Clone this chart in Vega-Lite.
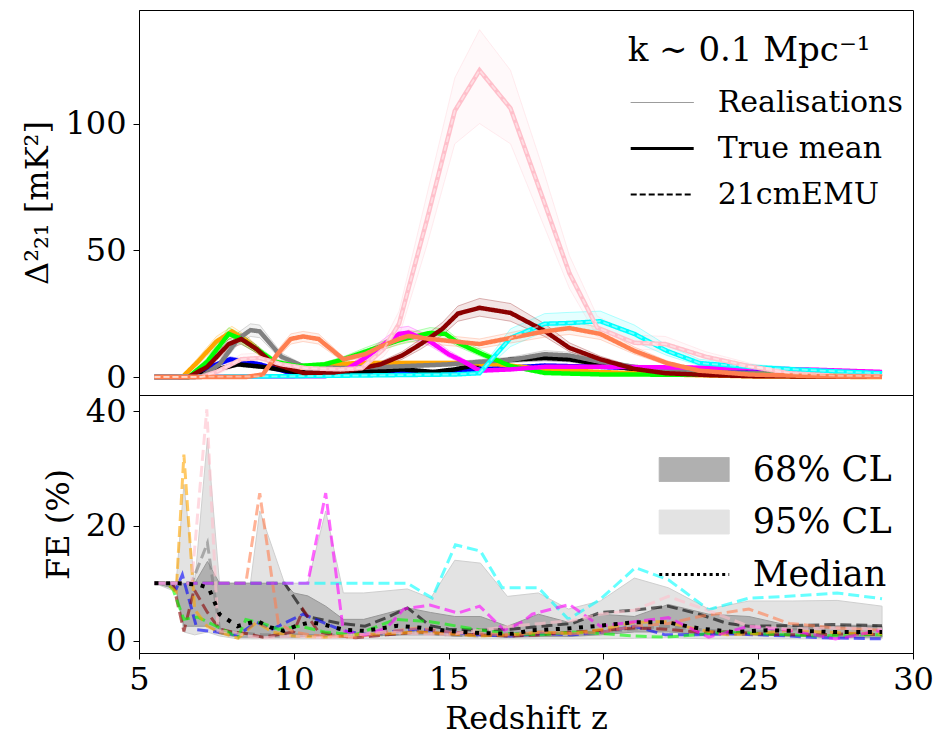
{
  "$schema": "https://vega.github.io/schema/vega-lite/v6.json",
  "background": "white",
  "padding": {"left": 21, "top": 9, "right": 5, "bottom": 5},
  "bounds": "flush",
  "config": {
    "font": "DejaVu Serif",
    "view": {"stroke": "black", "strokeWidth": 1},
    "axis": {"labelFont": "DejaVu Serif", "labelFontSize": 32, "labelColor": "black", "titleFont": "DejaVu Serif", "titleFontSize": 32, "titleFontWeight": "normal", "titleColor": "black", "tickColor": "black", "tickSize": 6, "tickWidth": 1, "domainColor": "black", "labelPadding": 7, "titlePadding": 10, "grid": false, "labelFlush": false, "labelOverlap": false},
    "axisX": {"labelPadding": 5, "titlePadding": 8}
  },
  "datasets": {
    "ps": [
      {"s":"blue","z":5.5,"v":0,"lo":0,"hi":0},{"s":"blue","z":6.6,"v":0,"lo":0,"hi":0.3},{"s":"blue","z":7.3,"v":4,"lo":3.3,"hi":4.8},{"s":"blue","z":7.95,"v":7,"lo":6,"hi":8},{"s":"blue","z":8.9,"v":5,"lo":4.2,"hi":5.8},{"s":"blue","z":9.9,"v":1.6,"lo":1.3,"hi":2},{"s":"blue","z":11,"v":1.2,"lo":1,"hi":1.5},{"s":"blue","z":13,"v":1.5,"lo":1.2,"hi":1.8},{"s":"blue","z":15,"v":2,"lo":1.6,"hi":2.4},{"s":"blue","z":16,"v":3,"lo":2.5,"hi":3.5},{"s":"blue","z":18.1,"v":4.5,"lo":3.8,"hi":5.2},{"s":"blue","z":19.9,"v":4,"lo":3.4,"hi":4.7},{"s":"blue","z":22,"v":3,"lo":2.5,"hi":3.5},{"s":"blue","z":24.7,"v":2.5,"lo":2.1,"hi":3},{"s":"blue","z":27,"v":2,"lo":1.7,"hi":2.4},{"s":"blue","z":29,"v":1.5,"lo":1.2,"hi":1.8},
      {"s":"black","z":5.5,"v":0,"lo":0,"hi":0},{"s":"black","z":6.8,"v":0,"lo":0,"hi":0.3},{"s":"black","z":7.5,"v":3,"lo":2.4,"hi":3.6},{"s":"black","z":8.2,"v":5,"lo":4.2,"hi":5.8},{"s":"black","z":9,"v":4,"lo":3.3,"hi":4.7},{"s":"black","z":10,"v":2,"lo":1.6,"hi":2.4},{"s":"black","z":12,"v":2,"lo":1.6,"hi":2.4},{"s":"black","z":13,"v":2.5,"lo":2,"hi":3},{"s":"black","z":13.5,"v":3,"lo":2.5,"hi":3.5},{"s":"black","z":14.5,"v":2,"lo":1.6,"hi":2.4},{"s":"black","z":15.2,"v":3,"lo":2.5,"hi":3.5},{"s":"black","z":16,"v":5,"lo":4.2,"hi":5.8},{"s":"black","z":17,"v":6.8,"lo":5.8,"hi":7.8},{"s":"black","z":18.1,"v":7.5,"lo":6.4,"hi":8.6},{"s":"black","z":18.9,"v":7,"lo":6,"hi":8},{"s":"black","z":19.9,"v":5,"lo":4.2,"hi":5.8},{"s":"black","z":21,"v":3,"lo":2.5,"hi":3.5},{"s":"black","z":23,"v":1.5,"lo":1.2,"hi":1.8},{"s":"black","z":25,"v":0.8,"lo":0.6,"hi":1},{"s":"black","z":29,"v":0.5,"lo":0.3,"hi":0.7},
      {"s":"orange","z":5.5,"v":0,"lo":0,"hi":0},{"s":"orange","z":6.4,"v":0,"lo":0,"hi":0.5},{"s":"orange","z":6.9,"v":6,"lo":4.5,"hi":7.5},{"s":"orange","z":7.5,"v":14,"lo":12,"hi":16},{"s":"orange","z":8,"v":18,"lo":15.5,"hi":20},{"s":"orange","z":8.5,"v":14,"lo":12,"hi":16},{"s":"orange","z":9.25,"v":6.3,"lo":5.3,"hi":7.3},{"s":"orange","z":10.1,"v":3.5,"lo":2.9,"hi":4.1},{"s":"orange","z":11,"v":4.5,"lo":3.8,"hi":5.2},{"s":"orange","z":12,"v":5.5,"lo":4.7,"hi":6.3},{"s":"orange","z":15.5,"v":5.5,"lo":4.7,"hi":6.3},{"s":"orange","z":16.6,"v":5,"lo":4.3,"hi":5.8},{"s":"orange","z":18.1,"v":3,"lo":2.5,"hi":3.6},{"s":"orange","z":19.9,"v":2,"lo":1.6,"hi":2.4},{"s":"orange","z":22,"v":1,"lo":0.7,"hi":1.3},{"s":"orange","z":25,"v":0.2,"lo":0.1,"hi":0.4},{"s":"orange","z":29,"v":0,"lo":0,"hi":0.1},
      {"s":"gray","z":5.5,"v":0,"lo":0,"hi":0},{"s":"gray","z":7,"v":0,"lo":0,"hi":0.5},{"s":"gray","z":7.6,"v":5,"lo":4,"hi":6.5},{"s":"gray","z":8.2,"v":15,"lo":13,"hi":17.5},{"s":"gray","z":8.6,"v":18.5,"lo":16,"hi":21},{"s":"gray","z":8.9,"v":18,"lo":15.5,"hi":20.5},{"s":"gray","z":9.6,"v":8,"lo":6.8,"hi":9.5},{"s":"gray","z":10.3,"v":4.3,"lo":3.6,"hi":5},{"s":"gray","z":11.5,"v":3.5,"lo":2.9,"hi":4.1},{"s":"gray","z":13,"v":4,"lo":3.3,"hi":4.7},{"s":"gray","z":15,"v":5,"lo":4.2,"hi":5.8},{"s":"gray","z":16,"v":6,"lo":5.1,"hi":6.9},{"s":"gray","z":17,"v":6.7,"lo":5.7,"hi":7.8},{"s":"gray","z":18.1,"v":9,"lo":7.7,"hi":10.4},{"s":"gray","z":18.9,"v":8.5,"lo":7.3,"hi":9.8},{"s":"gray","z":19.9,"v":6,"lo":5.1,"hi":7},{"s":"gray","z":21,"v":4,"lo":3.4,"hi":4.7},{"s":"gray","z":22,"v":3,"lo":2.5,"hi":3.5},{"s":"gray","z":23.5,"v":2,"lo":1.6,"hi":2.4},{"s":"gray","z":25,"v":1.5,"lo":1.2,"hi":1.8},{"s":"gray","z":29,"v":1,"lo":0.8,"hi":1.2},
      {"s":"green","z":5.5,"v":0,"lo":0,"hi":0},{"s":"green","z":6.6,"v":0,"lo":0,"hi":0.5},{"s":"green","z":7.2,"v":6,"lo":4.5,"hi":7.5},{"s":"green","z":7.9,"v":17,"lo":15,"hi":19.5},{"s":"green","z":8.3,"v":15,"lo":13,"hi":17},{"s":"green","z":8.8,"v":11,"lo":9.5,"hi":12.5},{"s":"green","z":9.4,"v":6,"lo":5,"hi":7},{"s":"green","z":10.1,"v":4.3,"lo":3.6,"hi":5},{"s":"green","z":11,"v":5,"lo":4.2,"hi":5.8},{"s":"green","z":11.6,"v":7,"lo":6,"hi":8},{"s":"green","z":12.3,"v":10,"lo":8.7,"hi":11.5},{"s":"green","z":13.4,"v":14.5,"lo":12.8,"hi":16.5},{"s":"green","z":14.4,"v":17.4,"lo":15.5,"hi":19.5},{"s":"green","z":14.9,"v":17,"lo":15,"hi":19},{"s":"green","z":15.3,"v":13.5,"lo":12,"hi":15},{"s":"green","z":16,"v":9.5,"lo":8.3,"hi":11},{"s":"green","z":17,"v":4.3,"lo":3.6,"hi":5},{"s":"green","z":18.1,"v":1.6,"lo":1.2,"hi":2},{"s":"green","z":20,"v":1,"lo":0.7,"hi":1.3},{"s":"green","z":25,"v":0.8,"lo":0.5,"hi":1.1},{"s":"green","z":29,"v":0.5,"lo":0.3,"hi":0.7},
      {"s":"magenta","z":5.5,"v":0,"lo":0,"hi":0},{"s":"magenta","z":11,"v":0.3,"lo":0.1,"hi":0.5},{"s":"magenta","z":11.7,"v":3,"lo":2.2,"hi":4},{"s":"magenta","z":12.3,"v":7.5,"lo":6,"hi":9},{"s":"magenta","z":12.8,"v":12,"lo":10.5,"hi":14},{"s":"magenta","z":13.4,"v":17,"lo":15,"hi":19.5},{"s":"magenta","z":13.7,"v":17.5,"lo":15.5,"hi":20},{"s":"magenta","z":14.4,"v":14,"lo":12.3,"hi":16},{"s":"magenta","z":15,"v":9,"lo":7.8,"hi":10.5},{"s":"magenta","z":15.5,"v":6,"lo":5,"hi":7},{"s":"magenta","z":16,"v":2.5,"lo":2,"hi":3.2},{"s":"magenta","z":17,"v":3,"lo":2.5,"hi":3.6},{"s":"magenta","z":18.1,"v":4,"lo":3.3,"hi":4.7},{"s":"magenta","z":20,"v":4,"lo":3.3,"hi":4.7},{"s":"magenta","z":22,"v":3.8,"lo":3.1,"hi":4.5},{"s":"magenta","z":24.7,"v":3.5,"lo":2.9,"hi":4.2},{"s":"magenta","z":27,"v":2.8,"lo":2.3,"hi":3.4},{"s":"magenta","z":29,"v":2,"lo":1.6,"hi":2.5},
      {"s":"cyan","z":5.5,"v":0,"lo":0,"hi":0},{"s":"cyan","z":10,"v":0.3,"lo":0.1,"hi":0.5},{"s":"cyan","z":15.2,"v":1,"lo":0.6,"hi":1.5},{"s":"cyan","z":16,"v":1.5,"lo":0.8,"hi":2.5},{"s":"cyan","z":17,"v":15.4,"lo":12,"hi":19},{"s":"cyan","z":18.1,"v":21,"lo":18,"hi":25},{"s":"cyan","z":18.9,"v":21.3,"lo":18.5,"hi":25.5},{"s":"cyan","z":19.9,"v":22,"lo":18.5,"hi":26},{"s":"cyan","z":21,"v":17,"lo":14,"hi":20.5},{"s":"cyan","z":22.05,"v":10.3,"lo":8.5,"hi":12.5},{"s":"cyan","z":23.1,"v":5.5,"lo":4.5,"hi":7},{"s":"cyan","z":24.7,"v":4,"lo":3.2,"hi":5},{"s":"cyan","z":26.2,"v":3,"lo":2.4,"hi":3.8},{"s":"cyan","z":27.6,"v":2.2,"lo":1.7,"hi":2.8},{"s":"cyan","z":29,"v":1.5,"lo":1.1,"hi":2},
      {"s":"darkred","z":5.5,"v":0,"lo":0,"hi":0},{"s":"darkred","z":6.6,"v":0,"lo":0,"hi":0.3},{"s":"darkred","z":7.2,"v":4,"lo":3,"hi":5},{"s":"darkred","z":7.9,"v":13,"lo":11,"hi":15},{"s":"darkred","z":8.3,"v":15,"lo":13,"hi":17},{"s":"darkred","z":8.8,"v":11,"lo":9.5,"hi":12.5},{"s":"darkred","z":9.3,"v":5.5,"lo":4.5,"hi":6.5},{"s":"darkred","z":10.3,"v":1.6,"lo":1.2,"hi":2},{"s":"darkred","z":11.3,"v":1.8,"lo":1.3,"hi":2.3},{"s":"darkred","z":12,"v":3,"lo":2.4,"hi":3.6},{"s":"darkred","z":12.8,"v":5,"lo":4,"hi":6},{"s":"darkred","z":13.5,"v":8.5,"lo":7,"hi":10},{"s":"darkred","z":14.1,"v":13,"lo":11,"hi":15},{"s":"darkred","z":14.8,"v":19,"lo":16.5,"hi":21.5},{"s":"darkred","z":15.3,"v":25,"lo":22,"hi":28},{"s":"darkred","z":16,"v":27.3,"lo":24,"hi":31},{"s":"darkred","z":17,"v":25.3,"lo":22,"hi":29},{"s":"darkred","z":18.1,"v":18.2,"lo":16,"hi":21},{"s":"darkred","z":18.9,"v":11.5,"lo":10,"hi":13.5},{"s":"darkred","z":19.9,"v":7,"lo":6,"hi":8.2},{"s":"darkred","z":21,"v":3.2,"lo":2.6,"hi":4},{"s":"darkred","z":22,"v":1.5,"lo":1.1,"hi":2},{"s":"darkred","z":23.5,"v":0.7,"lo":0.4,"hi":1},{"s":"darkred","z":25,"v":0.3,"lo":0.1,"hi":0.5},{"s":"darkred","z":29,"v":0.1,"lo":0,"hi":0.3},
      {"s":"pink","z":5.5,"v":0,"lo":0,"hi":0},{"s":"pink","z":7,"v":0,"lo":0,"hi":0.5},{"s":"pink","z":7.5,"v":2,"lo":1,"hi":3},{"s":"pink","z":8.3,"v":7,"lo":5,"hi":9},{"s":"pink","z":8.9,"v":7.5,"lo":5.5,"hi":9.5},{"s":"pink","z":9.6,"v":5,"lo":3.5,"hi":6.5},{"s":"pink","z":10.4,"v":3.5,"lo":2.5,"hi":4.5},{"s":"pink","z":11.5,"v":3,"lo":2,"hi":4},{"s":"pink","z":12.2,"v":3.5,"lo":2.5,"hi":5},{"s":"pink","z":12.9,"v":11,"lo":8,"hi":14},{"s":"pink","z":13.4,"v":21,"lo":16,"hi":26},{"s":"pink","z":14.3,"v":62,"lo":52,"hi":72},{"s":"pink","z":15.2,"v":105,"lo":92,"hi":118},{"s":"pink","z":16,"v":121,"lo":100,"hi":137},{"s":"pink","z":17,"v":106,"lo":92,"hi":121},{"s":"pink","z":18,"v":72,"lo":62,"hi":84},{"s":"pink","z":18.9,"v":41,"lo":35,"hi":48},{"s":"pink","z":19.8,"v":19.5,"lo":16,"hi":24},{"s":"pink","z":21,"v":13.5,"lo":11,"hi":16.5},{"s":"pink","z":22,"v":13,"lo":10.5,"hi":16},{"s":"pink","z":23.3,"v":8,"lo":6,"hi":10},{"s":"pink","z":24.7,"v":4.3,"lo":3,"hi":5.5},{"s":"pink","z":26,"v":1.5,"lo":1,"hi":2.2},{"s":"pink","z":27.5,"v":0.5,"lo":0.3,"hi":0.8},{"s":"pink","z":29,"v":0.3,"lo":0.1,"hi":0.5},
      {"s":"coral","z":5.5,"v":0,"lo":0,"hi":0},{"s":"coral","z":8.45,"v":0,"lo":0,"hi":0.3},{"s":"coral","z":9,"v":1,"lo":0.6,"hi":1.5},{"s":"coral","z":9.47,"v":9,"lo":7.5,"hi":10.5},{"s":"coral","z":9.9,"v":15,"lo":13,"hi":17},{"s":"coral","z":10.3,"v":16,"lo":14,"hi":18},{"s":"coral","z":10.8,"v":15,"lo":13,"hi":17},{"s":"coral","z":11.6,"v":7,"lo":6,"hi":8},{"s":"coral","z":12.3,"v":9,"lo":7.8,"hi":10.3},{"s":"coral","z":12.8,"v":12,"lo":10.5,"hi":13.5},{"s":"coral","z":13.4,"v":15,"lo":13,"hi":17},{"s":"coral","z":13.7,"v":16.2,"lo":14,"hi":18.5},{"s":"coral","z":14.4,"v":15,"lo":13,"hi":17},{"s":"coral","z":15.2,"v":14,"lo":12.2,"hi":16},{"s":"coral","z":16,"v":13,"lo":11.3,"hi":15},{"s":"coral","z":17,"v":15.4,"lo":13.4,"hi":17.5},{"s":"coral","z":18.1,"v":18,"lo":15.7,"hi":20.5},{"s":"coral","z":18.9,"v":19.3,"lo":16.8,"hi":22},{"s":"coral","z":19.9,"v":17,"lo":14.8,"hi":19.5},{"s":"coral","z":21,"v":10.3,"lo":9,"hi":11.8},{"s":"coral","z":22.05,"v":5.5,"lo":4.7,"hi":6.4},{"s":"coral","z":23.1,"v":2.5,"lo":2.1,"hi":3},{"s":"coral","z":24.7,"v":1,"lo":0.8,"hi":1.3},{"s":"coral","z":27,"v":0.3,"lo":0.2,"hi":0.5},{"s":"coral","z":29,"v":0.1,"lo":0,"hi":0.2}
    ],
    "fe": [
      {"s":"gray","z":5.5,"v":10},{"s":"gray","z":6.7,"v":10},{"s":"gray","z":7.21,"v":17},{"s":"gray","z":7.6,"v":2},{"s":"gray","z":8,"v":1.5},{"s":"gray","z":9,"v":1},{"s":"gray","z":10,"v":1},{"s":"gray","z":11,"v":0.8},{"s":"gray","z":12,"v":1.2},{"s":"gray","z":13,"v":1},{"s":"gray","z":14,"v":1.5},{"s":"gray","z":15,"v":1},{"s":"gray","z":16,"v":0.8},{"s":"gray","z":17,"v":1.2},{"s":"gray","z":18,"v":1.5},{"s":"gray","z":19,"v":1.2},{"s":"gray","z":20,"v":1.5},{"s":"gray","z":21,"v":2},{"s":"gray","z":22,"v":2.5},{"s":"gray","z":23,"v":2},{"s":"gray","z":24,"v":1.5},{"s":"gray","z":25,"v":1.5},{"s":"gray","z":26,"v":2},{"s":"gray","z":27,"v":2.3},{"s":"gray","z":28,"v":2.5},{"s":"gray","z":29,"v":2.5},
      {"s":"black","z":5.5,"v":10},{"s":"black","z":9.7,"v":10},{"s":"black","z":10.43,"v":4.2},{"s":"black","z":11.5,"v":3},{"s":"black","z":12.3,"v":2.5},{"s":"black","z":13,"v":4},{"s":"black","z":13.67,"v":5.7},{"s":"black","z":14.4,"v":2.6},{"s":"black","z":15,"v":2},{"s":"black","z":16,"v":1.8},{"s":"black","z":17,"v":2},{"s":"black","z":18,"v":2.5},{"s":"black","z":19,"v":3},{"s":"black","z":19.9,"v":4.9},{"s":"black","z":21,"v":5.3},{"s":"black","z":22.1,"v":6},{"s":"black","z":23.1,"v":4.6},{"s":"black","z":24,"v":3},{"s":"black","z":24.7,"v":2.5},{"s":"black","z":26,"v":2.6},{"s":"black","z":27.4,"v":2.8},{"s":"black","z":29,"v":2.6},
      {"s":"blue","z":5.5,"v":10},{"s":"blue","z":5.9,"v":10},{"s":"blue","z":6.2,"v":9},{"s":"blue","z":6.4,"v":11.5},{"s":"blue","z":6.88,"v":1.9},{"s":"blue","z":7.5,"v":1.5},{"s":"blue","z":8.2,"v":1},{"s":"blue","z":8.8,"v":3.2},{"s":"blue","z":9.3,"v":2},{"s":"blue","z":10.3,"v":4.6},{"s":"blue","z":10.8,"v":3.5},{"s":"blue","z":11.6,"v":1.7},{"s":"blue","z":12.5,"v":1},{"s":"blue","z":13,"v":1.5},{"s":"blue","z":14,"v":2},{"s":"blue","z":15,"v":1.5},{"s":"blue","z":16,"v":1},{"s":"blue","z":17,"v":0.8},{"s":"blue","z":18,"v":1.2},{"s":"blue","z":19,"v":1},{"s":"blue","z":20,"v":1.5},{"s":"blue","z":21,"v":2.5},{"s":"blue","z":22,"v":1},{"s":"blue","z":23,"v":1},{"s":"blue","z":24,"v":1.2},{"s":"blue","z":25,"v":1},{"s":"blue","z":26,"v":0.8},{"s":"blue","z":27,"v":0.5},{"s":"blue","z":28,"v":0.4},{"s":"blue","z":29,"v":0.3},
      {"s":"darkred","z":5.5,"v":10},{"s":"darkred","z":6.1,"v":10},{"s":"darkred","z":6.45,"v":1.6},{"s":"darkred","z":6.78,"v":8.9},{"s":"darkred","z":7.2,"v":5},{"s":"darkred","z":7.6,"v":2},{"s":"darkred","z":8,"v":1.5},{"s":"darkred","z":8.5,"v":1.2},{"s":"darkred","z":9,"v":0.6},{"s":"darkred","z":10,"v":1.5},{"s":"darkred","z":10.3,"v":5.4},{"s":"darkred","z":10.8,"v":1.5},{"s":"darkred","z":11.5,"v":0.8},{"s":"darkred","z":12,"v":0.5},{"s":"darkred","z":13,"v":1},{"s":"darkred","z":14,"v":1.5},{"s":"darkred","z":15,"v":1.2},{"s":"darkred","z":16,"v":1},{"s":"darkred","z":17,"v":0.8},{"s":"darkred","z":18,"v":1},{"s":"darkred","z":19,"v":1.5},{"s":"darkred","z":20,"v":1.8},{"s":"darkred","z":21,"v":2.2},{"s":"darkred","z":22,"v":2},{"s":"darkred","z":23,"v":1.5},{"s":"darkred","z":24,"v":1.5},{"s":"darkred","z":25,"v":1.2},{"s":"darkred","z":26,"v":1},{"s":"darkred","z":27,"v":1},{"s":"darkred","z":28,"v":1.2},{"s":"darkred","z":29,"v":1},
      {"s":"green","z":5.5,"v":10},{"s":"green","z":5.9,"v":10},{"s":"green","z":6.1,"v":8.9},{"s":"green","z":6.45,"v":3.7},{"s":"green","z":6.9,"v":4.1},{"s":"green","z":7.5,"v":2.5},{"s":"green","z":8.2,"v":0.6},{"s":"green","z":8.45,"v":3.7},{"s":"green","z":9,"v":3},{"s":"green","z":9.5,"v":2},{"s":"green","z":10.2,"v":2.5},{"s":"green","z":11,"v":1.5},{"s":"green","z":12,"v":1},{"s":"green","z":12.7,"v":2.5},{"s":"green","z":13.3,"v":3.7},{"s":"green","z":14.4,"v":3.3},{"s":"green","z":15.3,"v":2.5},{"s":"green","z":16.2,"v":1.7},{"s":"green","z":17,"v":1.2},{"s":"green","z":18,"v":1},{"s":"green","z":19,"v":1.5},{"s":"green","z":20,"v":1.2},{"s":"green","z":21,"v":0.8},{"s":"green","z":22,"v":0.6},{"s":"green","z":23,"v":1},{"s":"green","z":24,"v":1.5},{"s":"green","z":25,"v":1.2},{"s":"green","z":26,"v":1},{"s":"green","z":27,"v":0.8},{"s":"green","z":28,"v":1},{"s":"green","z":29,"v":1},
      {"s":"orange","z":5.5,"v":10},{"s":"orange","z":5.9,"v":10},{"s":"orange","z":6.2,"v":8.5},{"s":"orange","z":6.45,"v":32.4},{"s":"orange","z":6.8,"v":5.4},{"s":"orange","z":7.2,"v":2.5},{"s":"orange","z":7.6,"v":1.5},{"s":"orange","z":8.2,"v":0.4},{"s":"orange","z":8.8,"v":3.2},{"s":"orange","z":9.3,"v":1.5},{"s":"orange","z":10,"v":0.8},{"s":"orange","z":11,"v":0.6},{"s":"orange","z":12,"v":1},{"s":"orange","z":13,"v":1.2},{"s":"orange","z":14,"v":1.5},{"s":"orange","z":15,"v":1.2},{"s":"orange","z":16,"v":0.8},{"s":"orange","z":17,"v":1},{"s":"orange","z":18,"v":1.5},{"s":"orange","z":19,"v":1.2},{"s":"orange","z":20,"v":2},{"s":"orange","z":21,"v":3.2},{"s":"orange","z":22,"v":3.3},{"s":"orange","z":23,"v":2},{"s":"orange","z":24,"v":1},{"s":"orange","z":25,"v":1.2},{"s":"orange","z":26,"v":1.8},{"s":"orange","z":27,"v":1.5},{"s":"orange","z":28,"v":1.3},{"s":"orange","z":29,"v":1.2},
      {"s":"coral","z":5.5,"v":10},{"s":"coral","z":8.45,"v":10},{"s":"coral","z":8.9,"v":25.7},{"s":"coral","z":9.5,"v":3},{"s":"coral","z":10,"v":1.5},{"s":"coral","z":10.5,"v":1},{"s":"coral","z":11,"v":0.8},{"s":"coral","z":12,"v":0.6},{"s":"coral","z":13,"v":1.5},{"s":"coral","z":14,"v":2.2},{"s":"coral","z":15,"v":1.5},{"s":"coral","z":16,"v":1.2},{"s":"coral","z":17,"v":1},{"s":"coral","z":18,"v":1.5},{"s":"coral","z":19,"v":1.2},{"s":"coral","z":20,"v":1.5},{"s":"coral","z":21,"v":2.5},{"s":"coral","z":22.1,"v":3},{"s":"coral","z":23.1,"v":4.2},{"s":"coral","z":24.7,"v":5.5},{"s":"coral","z":26,"v":3},{"s":"coral","z":27.5,"v":2.2},{"s":"coral","z":29,"v":1.8},
      {"s":"cyan","z":5.5,"v":10},{"s":"cyan","z":13.67,"v":10},{"s":"cyan","z":14.47,"v":7.4},{"s":"cyan","z":15.22,"v":16.7},{"s":"cyan","z":16.03,"v":15.6},{"s":"cyan","z":16.73,"v":9.2},{"s":"cyan","z":17.9,"v":9.2},{"s":"cyan","z":18.87,"v":3.7},{"s":"cyan","z":19.9,"v":7.2},{"s":"cyan","z":21.03,"v":12.7},{"s":"cyan","z":22.1,"v":10.6},{"s":"cyan","z":23.4,"v":5.4},{"s":"cyan","z":24.7,"v":7.4},{"s":"cyan","z":26.2,"v":7.8},{"s":"cyan","z":27.55,"v":8.3},{"s":"cyan","z":29,"v":7.3},
      {"s":"magenta","z":5.5,"v":10},{"s":"magenta","z":10.45,"v":10},{"s":"magenta","z":11.03,"v":25.7},{"s":"magenta","z":11.6,"v":1.7},{"s":"magenta","z":12.3,"v":1},{"s":"magenta","z":13,"v":2.2},{"s":"magenta","z":13.55,"v":5.5},{"s":"magenta","z":14.4,"v":6.2},{"s":"magenta","z":15.3,"v":4.8},{"s":"magenta","z":16,"v":6},{"s":"magenta","z":16.8,"v":1.8},{"s":"magenta","z":17.4,"v":3.3},{"s":"magenta","z":17.7,"v":4.6},{"s":"magenta","z":18.9,"v":6.3},{"s":"magenta","z":19.9,"v":2.5},{"s":"magenta","z":21,"v":3.3},{"s":"magenta","z":22.1,"v":4},{"s":"magenta","z":23.4,"v":0.6},{"s":"magenta","z":24.7,"v":2.5},{"s":"magenta","z":26,"v":1.8},{"s":"magenta","z":27.5,"v":0.3},{"s":"magenta","z":29,"v":1.8},
      {"s":"pink","z":5.5,"v":10},{"s":"pink","z":6.7,"v":10},{"s":"pink","z":7.19,"v":40.3},{"s":"pink","z":7.55,"v":1.7},{"s":"pink","z":8,"v":1.5},{"s":"pink","z":8.5,"v":0.8},{"s":"pink","z":9,"v":0.5},{"s":"pink","z":10,"v":0.8},{"s":"pink","z":11,"v":0.5},{"s":"pink","z":12,"v":1},{"s":"pink","z":13,"v":1.5},{"s":"pink","z":14,"v":1.2},{"s":"pink","z":15,"v":1},{"s":"pink","z":16,"v":1.8},{"s":"pink","z":17,"v":2.5},{"s":"pink","z":18,"v":3},{"s":"pink","z":19,"v":3.5},{"s":"pink","z":19.9,"v":4.6},{"s":"pink","z":21,"v":5.3},{"s":"pink","z":22.1,"v":7.7},{"s":"pink","z":23.4,"v":5.2},{"s":"pink","z":24.7,"v":2.5},{"s":"pink","z":26,"v":2},{"s":"pink","z":27.5,"v":2.2},{"s":"pink","z":29,"v":2}
    ],
    "cl": [
      {"z":5.5,"l68":10,"u68":10,"l95":10,"u95":10},{"z":6.2,"l68":9,"u68":10,"l95":8.5,"u95":10},{"z":6.45,"l68":2.5,"u68":10,"l95":1.5,"u95":27.2},{"z":6.8,"l68":2.5,"u68":10,"l95":1,"u95":10},{"z":7.21,"l68":2.5,"u68":13.8,"l95":1.5,"u95":35.3},{"z":7.6,"l68":1.2,"u68":10,"l95":0.8,"u95":10},{"z":8.2,"l68":0.6,"u68":10,"l95":0.3,"u95":10},{"z":8.6,"l68":0.6,"u68":10,"l95":0.3,"u95":10},{"z":8.9,"l68":0.6,"u68":10,"l95":0.3,"u95":22.6},{"z":9.7,"l68":0.6,"u68":10,"l95":0.3,"u95":10},{"z":10,"l68":0.6,"u68":8.3,"l95":0.3,"u95":10},{"z":10.45,"l68":0.7,"u68":7.8,"l95":0.3,"u95":10},{"z":11.03,"l68":0.8,"u68":6,"l95":0.3,"u95":22.6},{"z":11.6,"l68":0.8,"u68":3.7,"l95":0.3,"u95":8.3},{"z":12.26,"l68":0.8,"u68":3.7,"l95":0.3,"u95":8.3},{"z":13.67,"l68":1,"u68":5.7,"l95":0.3,"u95":9},{"z":14.42,"l68":1,"u68":4.9,"l95":0.3,"u95":7.4},{"z":15.2,"l68":0.8,"u68":4.2,"l95":0.3,"u95":14},{"z":16.03,"l68":0.8,"u68":4.2,"l95":0.3,"u95":13.5},{"z":16.9,"l68":0.6,"u68":2.5,"l95":0.3,"u95":7.7},{"z":17.9,"l68":0.7,"u68":4.6,"l95":0.3,"u95":8.3},{"z":18.87,"l68":0.7,"u68":3.2,"l95":0.3,"u95":5.5},{"z":19.9,"l68":1,"u68":4.6,"l95":0.3,"u95":6.9},{"z":21,"l68":1.5,"u68":4.2,"l95":0.4,"u95":10.9},{"z":22.1,"l68":1.5,"u68":6.3,"l95":0.5,"u95":9.2},{"z":23.4,"l68":1,"u68":4.6,"l95":0.3,"u95":5.5},{"z":24.7,"l68":1,"u68":4.2,"l95":0.3,"u95":6.9},{"z":26.1,"l68":0.8,"u68":2.5,"l95":0.3,"u95":6.9},{"z":27.55,"l68":0.6,"u68":2.5,"l95":0.3,"u95":7},{"z":29,"l68":0.6,"u68":2.5,"l95":0.3,"u95":6}
    ],
    "med": [
      {"z":5.5,"v":10},{"z":6.24,"v":10},{"z":6.88,"v":9.8},{"z":7.25,"v":9.2},{"z":7.6,"v":4.6},{"z":8.18,"v":2.5},{"z":8.5,"v":3},{"z":8.82,"v":3.4},{"z":9.25,"v":2.3},{"z":9.67,"v":1.7},{"z":10.1,"v":2.6},{"z":10.54,"v":3.2},{"z":10.97,"v":2.8},{"z":11.6,"v":1.9},{"z":12.26,"v":1.7},{"z":12.9,"v":2.2},{"z":13.35,"v":2.6},{"z":14,"v":2.3},{"z":14.97,"v":1.7},{"z":16.03,"v":1.3},{"z":17.1,"v":1.2},{"z":17.7,"v":1.8},{"z":18.8,"v":2.1},{"z":19.9,"v":2.6},{"z":21,"v":3.2},{"z":22.05,"v":3.2},{"z":23.1,"v":2.1},{"z":24.2,"v":1.5},{"z":25.3,"v":1.8},{"z":26.3,"v":1.7},{"z":27.4,"v":1.5},{"z":29,"v":1.5}
    ]
  },
  "spacing": 0,
  "resolve": {"scale": {"color": "independent"}, "legend": {"color": "independent"}},
  "vconcat": [
    {
      "width": 774,
      "height": 385,
      "data": {"name": "ps"},
      "layer": [
        {
          "mark": {"type": "area", "opacity": 0.1},
          "encoding": {
            "x": {"field": "z", "type": "quantitative", "scale": {"domain": [5, 30], "nice": false}, "axis": null},
            "y": {"field": "lo", "type": "quantitative", "scale": {"domain": [-7.1, 144.8], "nice": false, "zero": false}, "axis": {"title": "Δ²₂₁ [mK²]", "values": [0, 50, 100]}},
            "y2": {"field": "hi"},
            "color": {"field": "s", "type": "nominal", "scale": {"domain": ["blue", "black", "orange", "gray", "green", "magenta", "cyan", "darkred", "pink", "coral"], "range": ["#0000ff", "#000000", "#ffa500", "#808080", "#00ff00", "#ff00ff", "#00ffff", "#8b0000", "#ffc0cb", "#ff7f50"]}, "legend": null}
          }
        },
        {
          "transform": [{"fold": ["lo", "hi"], "as": ["k", "rv"]}],
          "mark": {"type": "line", "strokeWidth": 1, "opacity": 0.3},
          "encoding": {
            "x": {"field": "z", "type": "quantitative"},
            "y": {"field": "rv", "type": "quantitative"},
            "color": {"field": "s", "type": "nominal"},
            "detail": {"field": "k"},
            "strokeDash": {
              "datum": "Realisations", "type": "nominal",
              "scale": {"domain": ["Realisations", "True mean", "21cmEMU"], "range": [[1, 0], [1, 0], [6, 3]]},
              "legend": {
                "title": "k ∼  0.1 Mpc⁻¹", "orient": "none", "legendX": 488.7, "legendY": 23.5, "padding": 0,
                "titleFont": "DejaVu Serif", "titleFontSize": 34, "titleFontWeight": "normal", "titleColor": "black", "titlePadding": 20, "titleLimit": 500,
                "labelFont": "DejaVu Serif", "labelFontSize": 30, "labelColor": "black", "labelOffset": 60, "labelLimit": 500,
                "symbolType": "stroke", "symbolSize": 900, "rowPadding": 16,
                "encoding": {"symbols": {
                  "shape": {"value": "M-0.8,0H3.4"},
                  "stroke": {"value": {"expr": "datum.value === 'Realisations' ? '#808080' : 'black'"}},
                  "strokeWidth": {"value": {"expr": "datum.value === 'True mean' ? 3 : (datum.value === 'Realisations' ? 1 : 2)"}},
                  "opacity": {"value": 1},
                  "strokeOpacity": {"value": 1}
                }}
              }
            }
          }
        },
        {
          "mark": {"type": "line", "strokeWidth": 4.5},
          "encoding": {
            "x": {"field": "z", "type": "quantitative"},
            "y": {"field": "v", "type": "quantitative"},
            "color": {"field": "s", "type": "nominal"},
            "strokeDash": {"datum": "True mean", "type": "nominal"}
          }
        },
        {
          "transform": [{"filter": {"field": "s", "oneOf": ["pink", "cyan"]}}],
          "mark": {"type": "line", "strokeWidth": 1.8, "color": "white", "opacity": 0.45},
          "encoding": {
            "x": {"field": "z", "type": "quantitative"},
            "y": {"field": "v", "type": "quantitative"},
            "detail": {"field": "s"},
            "strokeDash": {"datum": "21cmEMU", "type": "nominal"}
          }
        }
      ]
    },
    {
      "width": 774,
      "height": 258,
      "layer": [
        {
          "data": {"name": "cl"},
          "mark": {"type": "area", "stroke": "#cfcfcf", "strokeWidth": 1},
          "encoding": {
            "x": {"field": "z", "type": "quantitative", "scale": {"domain": [5, 30], "nice": false}, "axis": {"values": [5, 10, 15, 20, 25, 30], "title": "Redshift z"}},
            "y": {"field": "l95", "type": "quantitative", "scale": {"domain": [-2.16, 42.8], "nice": false, "zero": false}, "axis": {"title": "FE (%)", "values": [0, 20, 40]}},
            "y2": {"field": "u95"},
            "color": {
              "datum": "95% CL", "type": "nominal", "title": null,
              "scale": {"domain": ["gray", "black", "blue", "darkred", "green", "orange", "coral", "cyan", "magenta", "pink", "68% CL", "95% CL", "Median"], "range": ["#808080", "#000000", "#0000ff", "#8b0000", "#00ff00", "#ffa500", "#ff7f50", "#00ffff", "#ff00ff", "#ffc0cb", "#b0b0b0", "#e3e3e3", "#000000"]},
              "legend": {
                "values": ["68% CL", "95% CL", "Median"], "title": null, "orient": "none", "legendX": 517.7, "legendY": 57, "padding": 0,
                "labelFont": "DejaVu Serif", "labelFontSize": 35, "labelColor": "black", "labelOffset": 61, "labelLimit": 500,
                "symbolSize": 900, "rowPadding": 16.5,
                "encoding": {"symbols": {
                  "shape": {"value": {"expr": "datum.value === 'Median' ? 'M-1,0H3.667' : 'M-1,-0.8H3.667V0.8H-1Z'"}},
                  "fill": {"value": {"expr": "datum.value === '68% CL' ? '#b0b0b0' : (datum.value === '95% CL' ? '#e3e3e3' : 'transparent')"}},
                  "stroke": {"value": {"expr": "datum.value === '68% CL' ? '#999999' : (datum.value === '95% CL' ? '#d0d0d0' : 'black')"}},
                  "strokeWidth": {"value": {"expr": "datum.value === 'Median' ? 3 : 1"}},
                  "strokeDash": {"value": {"expr": "datum.value === 'Median' ? [3, 3.3] : [1, 0]"}},
                  "opacity": {"value": 1},
                  "fillOpacity": {"value": 1},
                  "strokeOpacity": {"value": 1}
                }}
              }
            }
          }
        },
        {
          "data": {"name": "cl"},
          "mark": {"type": "area", "stroke": "#999999", "strokeWidth": 1},
          "encoding": {
            "x": {"field": "z", "type": "quantitative"},
            "y": {"field": "l68", "type": "quantitative"},
            "y2": {"field": "u68"},
            "color": {"datum": "68% CL", "type": "nominal", "title": null}
          }
        },
        {
          "data": {"name": "fe"},
          "mark": {"type": "line", "strokeWidth": 3, "strokeDash": [11, 5], "opacity": 0.6},
          "encoding": {
            "x": {"field": "z", "type": "quantitative"},
            "y": {"field": "v", "type": "quantitative"},
            "color": {"field": "s", "type": "nominal", "title": null}
          }
        },
        {
          "data": {"name": "med"},
          "mark": {"type": "line", "strokeWidth": 4, "strokeDash": [4, 7.6], "strokeCap": "butt"},
          "encoding": {
            "x": {"field": "z", "type": "quantitative"},
            "y": {"field": "v", "type": "quantitative"},
            "color": {"datum": "Median", "type": "nominal", "title": null}
          }
        }
      ]
    }
  ]
}
